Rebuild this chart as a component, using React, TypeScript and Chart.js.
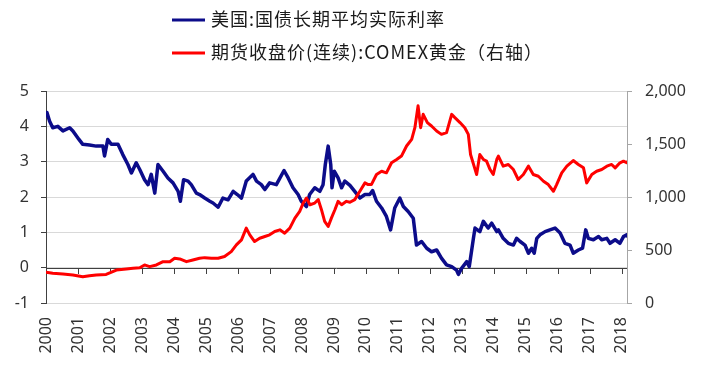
import React, { useEffect, useRef } from "react";
import { Chart, registerables } from "chart.js";

Chart.register(...registerables);

const yearTicks = [2000, 2001, 2002, 2003, 2004, 2005, 2006, 2007, 2008, 2009, 2010, 2011, 2012, 2013, 2014, 2015, 2016, 2017, 2018];
const leftTicks = [-1, 0, 1, 2, 3, 4, 5];
const rightTicks = [0, 500, 1000, 1500, 2000];

const rateLabel = "美国:国债长期平均实际利率";
const goldLabel = "期货收盘价(连续):COMEX黄金（右轴）";

const rateYears = [
  2000.0, 2000.03, 2000.11, 2000.21, 2000.37, 2000.53, 2000.74, 2000.84, 2001.03, 2001.15, 2001.36, 2001.57, 2001.78, 2001.83, 2001.93,
  2002.04, 2002.25, 2002.4, 2002.56, 2002.67, 2002.82, 2002.93, 2003.08, 2003.19, 2003.29, 2003.4, 2003.5, 2003.66, 2003.81, 2003.97,
  2004.13, 2004.2, 2004.3, 2004.44, 2004.54, 2004.7, 2004.8, 2004.96, 2005.12, 2005.22, 2005.38, 2005.53, 2005.69, 2005.85, 2005.98,
  2006.11, 2006.26, 2006.47, 2006.58, 2006.73, 2006.84, 2006.99, 2007.2, 2007.44, 2007.57, 2007.72, 2007.88, 2007.98, 2008.14, 2008.24,
  2008.4, 2008.56, 2008.66, 2008.73, 2008.82, 2008.9, 2008.94, 2009.01, 2009.13, 2009.24, 2009.34, 2009.5, 2009.65, 2009.81, 2009.97,
  2010.12, 2010.21, 2010.33, 2010.49, 2010.64, 2010.77, 2010.9, 2011.06, 2011.17, 2011.32, 2011.48, 2011.58, 2011.74, 2011.9, 2012.05,
  2012.21, 2012.36, 2012.52, 2012.68, 2012.83, 2012.89, 2012.99, 2013.15, 2013.23, 2013.36, 2013.41, 2013.56, 2013.67, 2013.82, 2013.93,
  2014.09, 2014.14, 2014.29, 2014.45, 2014.61, 2014.71, 2014.82, 2014.97, 2015.08, 2015.18, 2015.26, 2015.34, 2015.44, 2015.6, 2015.75,
  2015.91, 2016.07, 2016.22, 2016.38, 2016.48, 2016.64, 2016.77, 2016.87, 2016.95, 2017.11, 2017.27, 2017.37, 2017.53, 2017.63, 2017.79,
  2017.94, 2018.05, 2018.15, 2018.16,
];
const rateValues = [
  4.3, 4.39, 4.15, 3.96, 4.0, 3.87, 3.96, 3.87, 3.63, 3.49, 3.47, 3.44, 3.44, 3.16, 3.63,
  3.49, 3.49, 3.2, 2.92, 2.68, 2.97, 2.78, 2.49, 2.35, 2.64, 2.11, 2.92, 2.73, 2.54, 2.4,
  2.16, 1.88, 2.49, 2.45, 2.35, 2.11, 2.07, 1.97, 1.88, 1.83, 1.71, 1.97, 1.92, 2.16, 2.07,
  1.97, 2.45, 2.64, 2.45, 2.35, 2.21, 2.4, 2.35, 2.75, 2.54, 2.26, 2.07, 1.88, 1.73, 2.07,
  2.26, 2.16, 2.35, 2.92, 3.44, 2.92, 2.26, 2.73, 2.54, 2.26, 2.45, 2.33, 2.16, 1.97, 2.07,
  2.07, 2.18, 1.88, 1.69, 1.45, 1.07, 1.69, 1.97, 1.73, 1.59, 1.4, 0.64, 0.74, 0.55, 0.45,
  0.5, 0.27, 0.08, 0.03, -0.07, -0.19, -0.02, 0.17, 0.03, 0.83, 1.12, 1.02, 1.31, 1.12, 1.26,
  1.02, 1.07, 0.83, 0.69, 0.64, 0.83, 0.74, 0.64, 0.41, 0.55, 0.41, 0.83, 0.93, 1.02, 1.07,
  1.12, 0.98, 0.69, 0.64, 0.41, 0.5, 0.55, 1.07, 0.83, 0.79, 0.88, 0.79, 0.83, 0.69, 0.79,
  0.69, 0.88, 0.93, 0.9,
];

const goldYears = [
  2000.0, 2000.21, 2000.53, 2000.84, 2001.15, 2001.36, 2001.57, 2001.88, 2002.2, 2002.51, 2002.72, 2002.93, 2003.08, 2003.24, 2003.45,
  2003.66, 2003.87, 2004.02, 2004.18, 2004.39, 2004.59, 2004.8, 2004.96, 2005.17, 2005.38, 2005.58, 2005.79, 2005.95, 2006.11, 2006.26,
  2006.37, 2006.52, 2006.68, 2006.84, 2006.99, 2007.15, 2007.31, 2007.46, 2007.62, 2007.78, 2007.93, 2008.04, 2008.14, 2008.25, 2008.4,
  2008.51, 2008.61, 2008.71, 2008.82, 2008.92, 2009.03, 2009.13, 2009.24, 2009.39, 2009.5, 2009.65, 2009.81, 2009.97, 2010.07, 2010.17,
  2010.33, 2010.49, 2010.64, 2010.8, 2010.96, 2011.11, 2011.27, 2011.43, 2011.53, 2011.63, 2011.71, 2011.79, 2011.92, 2012.05, 2012.21,
  2012.36, 2012.52, 2012.68, 2012.78, 2012.94, 2013.09, 2013.2, 2013.27, 2013.38, 2013.46, 2013.56, 2013.67, 2013.77, 2013.88, 2013.98,
  2014.09, 2014.14, 2014.29, 2014.45, 2014.61, 2014.76, 2014.92, 2015.08, 2015.23, 2015.39, 2015.55, 2015.7, 2015.86, 2015.96, 2016.12,
  2016.28, 2016.48, 2016.64, 2016.8, 2016.9, 2017.06, 2017.21, 2017.37, 2017.53, 2017.68, 2017.79, 2017.94, 2018.05, 2018.15, 2018.16,
];
const goldValues = [
  290, 280, 274, 265, 248, 258, 265, 270, 311, 321, 327, 333, 359, 343, 359,
  390, 390, 422, 416, 390, 406, 422, 428, 422, 422, 438, 485, 548, 596, 706,
  643, 580, 611, 627, 643, 675, 690, 659, 706, 801, 864, 943, 991, 927, 943,
  975, 880, 770, 722, 801, 880, 959, 927, 959, 950, 975, 1054, 1133, 1117, 1117,
  1212, 1243, 1228, 1323, 1354, 1386, 1481, 1544, 1654, 1860, 1654, 1780, 1702, 1670, 1623,
  1591, 1607, 1780, 1749, 1702, 1654, 1591, 1401, 1291, 1212, 1401, 1354, 1338, 1259, 1212,
  1354, 1386, 1291, 1307, 1259, 1165, 1212, 1291, 1212, 1196, 1149, 1117, 1054, 1117, 1228,
  1291, 1344, 1307, 1275, 1133, 1212, 1243, 1259, 1291, 1307, 1275, 1323, 1338, 1323, 1330,
];

const BLUE = "#0c0c8a";
const RED = "#ff0000";

const legendPlugin = {
  id: "customLegend",
  afterDraw(chart: any) {
    const ctx = chart.ctx;
    const ds = chart.data.datasets;
    const rows = [
      { y: 19, ds: ds[0] },
      { y: 52, ds: ds[1] },
    ];
    ctx.save();
    rows.forEach((r) => {
      ctx.strokeStyle = r.ds.borderColor;
      ctx.lineWidth = 3;
      ctx.beginPath();
      ctx.moveTo(172, r.y + 1);
      ctx.lineTo(205, r.y + 1);
      ctx.stroke();
      ctx.fillStyle = "#1a1a1a";
      ctx.font = '18px "Noto Sans CJK SC", "Noto Sans", sans-serif';
      try { (ctx as any).letterSpacing = "1px"; } catch (e) {}
      ctx.textBaseline = "middle";
      ctx.textAlign = "left";
      ctx.fillText(r.ds.label, 211, r.y);
    });
    ctx.restore();
  },
};

const zeroAxisPlugin = {
  id: "zeroAxis",
  beforeDatasetsDraw(chart: any) {
    const ctx = chart.ctx;
    const xs = chart.scales.x;
    const ys = chart.scales.y;
    const y0 = ys.getPixelForValue(0);
    ctx.save();
    ctx.strokeStyle = "#404040";
    ctx.lineWidth = 1;
    ctx.beginPath();
    ctx.moveTo(chart.chartArea.left, Math.round(y0) + 0.5);
    ctx.lineTo(chart.chartArea.right, Math.round(y0) + 0.5);
    yearTicks.forEach((yr) => {
      const px = Math.round(xs.getPixelForValue(yr)) + 0.5;
      ctx.moveTo(px, Math.round(y0));
      ctx.lineTo(px, Math.round(y0) + 6);
    });
    ctx.stroke();
    ctx.restore();
  },
};

export default function App() {
  const ref = useRef<HTMLCanvasElement | null>(null);
  useEffect(() => {
    if (!ref.current) return;
    const tickFont = { family: '"Noto Sans", sans-serif', size: 16 };
    const chart = new Chart(ref.current, {
      type: "line",
      data: {
        datasets: [
          {
            label: rateLabel,
            data: rateYears.map((x, i) => ({ x, y: rateValues[i] })),
            borderColor: BLUE,
            backgroundColor: BLUE,
            borderWidth: 3.5,
            borderJoinStyle: "round",
            borderCapStyle: "round",
            pointRadius: 0,
            tension: 0,
            yAxisID: "y",
            order: 1,
          },
          {
            label: goldLabel,
            data: goldYears.map((x, i) => ({ x, y: goldValues[i] })),
            borderColor: RED,
            backgroundColor: RED,
            borderWidth: 3,
            borderJoinStyle: "round",
            borderCapStyle: "round",
            pointRadius: 0,
            tension: 0,
            yAxisID: "y1",
            order: 0,
          },
        ],
      },
      options: {
        responsive: false,
        animation: false,
        devicePixelRatio: 1,
        layout: { padding: { top: 91, left: 0, right: 0, bottom: 0 } },
        plugins: { legend: { display: false }, tooltip: { enabled: false } },
        scales: {
          x: {
            type: "linear",
            min: 2000,
            max: 2018.16,
            grid: { display: false, drawTicks: false },
            border: { display: false },
            afterBuildTicks: (s: any) => {
              s.ticks = yearTicks.map((v) => ({ value: v }));
            },
            afterFit: (s: any) => {
              s.height = 65;
            },
            ticks: {
              autoSkip: false,
              minRotation: 90,
              maxRotation: 90,
              padding: 14,
              color: "#333",
              font: tickFont,
              callback: (v: any) => String(v),
            },
          },
          y: {
            position: "left",
            min: -1,
            max: 5,
            afterBuildTicks: (s: any) => {
              s.ticks = leftTicks.map((v) => ({ value: v }));
            },
            afterFit: (s: any) => {
              s.width = 46;
            },
            grid: { color: "#d9d9d9", tickColor: "#404040", tickLength: 5, drawTicks: true },
            border: { display: true, color: "#404040", width: 1 },
            ticks: { color: "#333", font: tickFont, padding: 12, callback: (v: any) => String(v) },
          },
          y1: {
            position: "right",
            min: 0,
            max: 2000,
            afterBuildTicks: (s: any) => {
              s.ticks = rightTicks.map((v) => ({ value: v }));
            },
            afterFit: (s: any) => {
              s.width = 74;
            },
            grid: { drawOnChartArea: false, tickColor: "#a6a6a6", tickLength: 5, drawTicks: true },
            border: { display: true, color: "#a6a6a6", width: 1 },
            ticks: {
              color: "#333",
              font: tickFont,
              padding: 13,
              callback: (v: any) => Number(v).toLocaleString("en-US"),
            },
          },
        },
      } as any,
      plugins: [legendPlugin, zeroAxisPlugin],
    });
    return () => chart.destroy();
  }, []);
  return (
    <div style={{ position: "absolute", left: 0, top: 0, width: 701, height: 368, background: "#fff" }}>
      <canvas ref={ref} width={701} height={368} style={{ display: "block" }} />
    </div>
  );
}
